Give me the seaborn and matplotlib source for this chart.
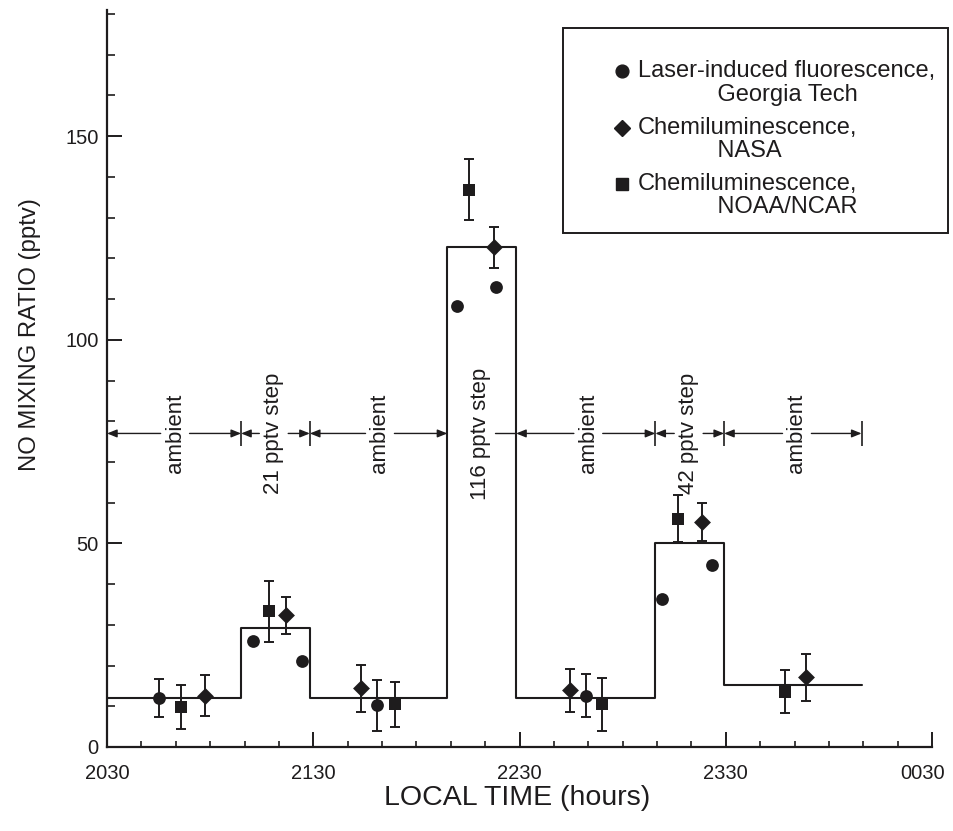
import numpy as np
import matplotlib
matplotlib.use("Agg")
import matplotlib.pyplot as plt
from matplotlib.lines import Line2D
from matplotlib.patches import Rectangle
from matplotlib.legend_handler import HandlerLine2D
from matplotlib.ticker import MultipleLocator
from matplotlib.transforms import ScaledTranslation
import seaborn as sns

# ---- data -----------------------------------------------------------------
# x is minutes after 20:30 local time
tick_minutes = [0, 60, 120, 180, 240]
tick_labels = ["2030", "2130", "2230", "2330", "0030"]
y_ticks = [0, 50, 100, 150]

# calibration sequence: segment boundaries (minutes) and NO level in each segment
step_edges = [0, 39, 59, 99, 119, 159.5, 179.5, 219.5]
step_levels = [12.0, 29.2, 12.0, 122.7, 12.0, 50.0, 15.3]
segment_labels = ["ambient", "21 pptv step", "ambient", "116 pptv step",
                  "ambient", "42 pptv step", "ambient"]
segment_label_x = [19.8, 48.5, 79.4, 108.7, 140.0, 169.2, 200.7]

# laser-induced fluorescence, Georgia Tech
lif_t = [15.2, 42.4, 56.6, 78.6, 101.9, 113.1, 139.2, 161.4, 176.0]
lif_no = [12.1, 26.1, 21.2, 10.2, 108.4, 113.0, 12.6, 36.4, 44.8]
lif_err = [4.7, np.nan, np.nan, 6.2, np.nan, np.nan, 5.3, np.nan, np.nan]

# chemiluminescence, NASA
nasa_t = [28.4, 52.1, 74.0, 112.6, 134.7, 173.1, 203.3]
nasa_no = [12.6, 32.3, 14.4, 122.7, 13.9, 55.2, 17.1]
nasa_err = [5.0, 4.5, 5.7, 5.0, 5.2, 4.6, 5.7]

# chemiluminescence, NOAA/NCAR
noaa_t = [21.6, 47.2, 83.7, 105.2, 143.9, 166.1, 197.2]
noaa_no = [9.9, 33.3, 10.5, 136.9, 10.5, 56.1, 13.6]
noaa_err = [5.4, 7.5, 5.5, 7.4, 6.5, 5.7, 5.3]

legend_labels = [
    "Laser-induced fluorescence,\n            Georgia Tech",
    "Chemiluminescence,\n            NASA",
    "Chemiluminescence,\n            NOAA/NCAR",
]

# ---- style ----------------------------------------------------------------
sns.set_style("ticks")
INK = "#1e1c1d"
plt.rcParams["font.family"] = ["Liberation Sans", "DejaVu Sans"]

fig = plt.figure(figsize=(9.54, 8.31), dpi=100)
ax = fig.add_axes([0.1122, 0.1011, 0.8648, 0.8869])

# step function of the calibration sequence
sns.lineplot(x=step_edges, y=step_levels + [step_levels[-1]], drawstyle="steps-post",
             estimator=None, sort=False, color=INK, lw=1.5, ax=ax, zorder=2)

# error bars, then markers on top
series = [
    (lif_t, lif_no, lif_err, "o", 9.2 ** 2),
    (nasa_t, nasa_no, nasa_err, "D", 8.6 ** 2),
    (noaa_t, noaa_no, noaa_err, "s", 9.2 ** 2),
]
for t, v, e, mk, s in series:
    t, v, e = np.asarray(t), np.asarray(v), np.asarray(e)
    has_err = np.isfinite(e)
    ax.errorbar(t[has_err], v[has_err], yerr=e[has_err], fmt="none", ecolor=INK,
                elinewidth=1.4, capsize=3.8, capthick=1.4, zorder=3)
    sns.scatterplot(x=t, y=v, marker=mk, s=s, color=INK, edgecolor=INK,
                    linewidth=0, ax=ax, zorder=4, legend=False)

# segment annotations with arrows
row_y = 77
gap = 4.2
arrow = dict(arrowstyle="-|>,head_length=0.42,head_width=0.17", mutation_scale=14,
             lw=1.0, color=INK, shrinkA=0, shrinkB=0)
for i, (label, xc) in enumerate(zip(segment_labels, segment_label_x)):
    left, right = step_edges[i], step_edges[i + 1]
    ax.text(xc, row_y, label, rotation=90, ha="center", va="center",
            fontsize=16, color=INK, zorder=5)
    if step_levels[i] > row_y:
        ax.plot([xc + gap, right], [row_y, row_y], color=INK, lw=1.0)
        continue
    ax.annotate("", xy=(left, row_y), xytext=(xc - gap, row_y), arrowprops=arrow)
    ax.annotate("", xy=(right, row_y), xytext=(xc + gap, row_y), arrowprops=arrow)
bar_edges = [x for i, x in enumerate(step_edges[1:], start=1)
             if max(step_levels[i - 1], step_levels[min(i, len(step_levels) - 1)]) < row_y]
ax.vlines(bar_edges, row_y - 3.1, row_y + 3.1, color=INK, lw=1.2)

# axes
ax.set_xlim(0, 240)
ax.set_ylim(0, 181)
ax.set_xticks(tick_minutes, tick_labels)
ax.set_yticks(y_ticks)
ax.xaxis.set_minor_locator(MultipleLocator(10))
ax.yaxis.set_minor_locator(MultipleLocator(10))
ax.tick_params(axis="x", which="major", direction="in", length=10.8, width=1.4,
               pad=12, color=INK, labelcolor=INK, labelsize=14.5)
ax.tick_params(axis="x", which="minor", direction="in", length=4.5, width=1.2, color=INK)
ax.tick_params(axis="y", which="major", direction="in", length=10.5, width=1.4,
               pad=6, color=INK, labelcolor=INK, labelsize=14.5)
ax.tick_params(axis="y", which="minor", direction="in", length=6, width=1.2, color=INK)
# nudge the last time label inward so it stays on the page
last = ax.get_xticklabels()[-1]
last.set_transform(last.get_transform() + ScaledTranslation(-7 / 72, 0, fig.dpi_scale_trans))
sns.despine(ax=ax)
for side in ("left", "bottom"):
    ax.spines[side].set_linewidth(1.6)
    ax.spines[side].set_color(INK)

ax.set_xlabel("LOCAL TIME (hours)", fontsize=20.5, color=INK)
ax.set_ylabel("NO MIXING RATIO (pptv)", fontsize=17.2, color=INK)
ax.xaxis.set_label_coords(0.497, -0.051)
ax.yaxis.set_label_coords(-0.093, 0.559)
ax.yaxis.label.set_va("center")


# legend: marker sits beside the first line of each two-line entry
class FirstLineHandler(HandlerLine2D):
    def __init__(self, lift, **kw):
        super().__init__(**kw)
        self.lift = lift

    def create_artists(self, legend, orig_handle, xdescent, ydescent, width,
                       height, fontsize, trans):
        artists = super().create_artists(legend, orig_handle, xdescent, ydescent,
                                         width, height, fontsize, trans)
        for a in artists:
            a.set_ydata(np.asarray(a.get_ydata()) + self.lift * fontsize)
        return artists


handles = [Line2D([], [], ls="none", marker=mk, ms=np.sqrt(s), color=INK, mec=INK)
           for _, _, _, mk, s in series]
leg = ax.legend(handles, legend_labels, loc="upper left",
                bbox_to_anchor=(610.1 / 954, 1 - 60.3 / 831), bbox_transform=fig.transFigure,
                frameon=False, borderpad=0, borderaxespad=0, handlelength=1.0,
                handletextpad=0.18, labelspacing=0.46, fontsize=17,
                handler_map={h: FirstLineHandler(0.5) for h in handles})
for t in leg.get_texts():
    t.set_linespacing(1.08)
    t.set_color(INK)
fig.add_artist(Rectangle((563 / 954, 1 - 233 / 831), (948 - 563) / 954, (233 - 28) / 831,
                         transform=fig.transFigure, fill=False, lw=1.4, ec=INK))

fig.savefig("out.png", dpi=100, facecolor="white")
